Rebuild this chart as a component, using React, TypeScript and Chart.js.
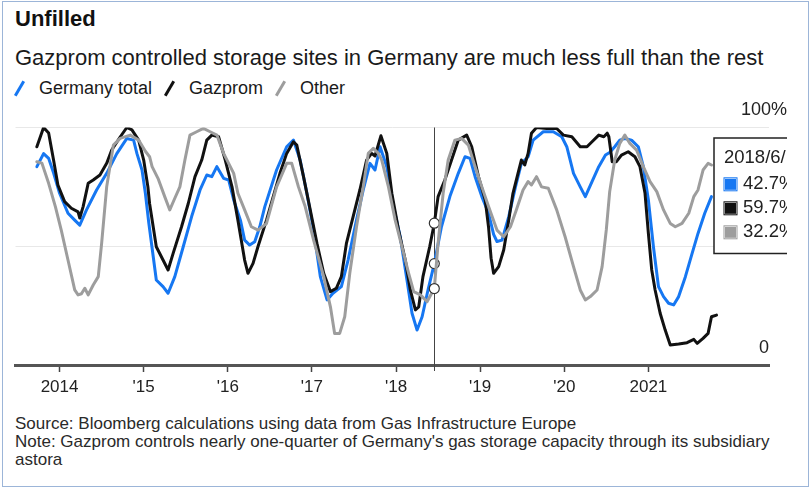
import React, { useEffect, useRef } from "react";
import { Chart, registerables, Tooltip } from "chart.js";

Chart.register(...registerables);

const FONT = "'Liberation Sans', Arial, Helvetica, sans-serif";

const TITLE = "Unfilled";
const SUBTITLE = "Gazprom controlled storage sites in Germany are much less full than the rest";
const SOURCE = "Source: Bloomberg calculations using data from Gas Infrastructure Europe";
const NOTE = "Note: Gazprom controls nearly one-quarter of Germany's gas storage capacity through its subsidiary astora";

const SERIES_NAMES = ["Germany total", "Gazprom", "Other"];
const SERIES_COLORS = ["#1677f2", "#111111", "#9d9d9d"];

const YEAR_TICKS = [2014, 2015, 2016, 2017, 2018, 2019, 2020, 2021];
const Y_TICKS = [0, 50, 100];
const X_MIN = 2013.476;
const X_MAX = 2022.434;
const HIGHLIGHT = 2018.455;

// Germany total (% full), decimal-year dates
const totalDates = [
  2013.73, 2013.81, 2013.87, 2013.93, 2014.0, 2014.1, 2014.18, 2014.24, 2014.32, 2014.44,
  2014.56, 2014.68, 2014.8, 2014.88, 2014.92, 2014.98, 2015.02, 2015.06, 2015.15, 2015.23,
  2015.29, 2015.37, 2015.47, 2015.57, 2015.67, 2015.75, 2015.81, 2015.87, 2015.95, 2016.01,
  2016.07, 2016.15, 2016.2, 2016.26, 2016.32, 2016.38, 2016.44, 2016.58, 2016.7, 2016.78,
  2016.86, 2016.94, 2017.02, 2017.1, 2017.18, 2017.25, 2017.35, 2017.43, 2017.53, 2017.61,
  2017.69, 2017.75, 2017.81, 2017.89, 2017.97, 2018.05, 2018.13, 2018.19, 2018.25, 2018.31,
  2018.38, 2018.455, 2018.54, 2018.64, 2018.74, 2018.82, 2018.88, 2018.94, 2019.02, 2019.1,
  2019.16, 2019.2, 2019.26, 2019.34, 2019.42, 2019.49, 2019.57, 2019.63, 2019.75, 2019.87,
  2019.97, 2020.03, 2020.11, 2020.19, 2020.25, 2020.33, 2020.41, 2020.49, 2020.54, 2020.6,
  2020.66, 2020.72, 2020.8, 2020.88, 2020.94, 2021.0, 2021.06, 2021.12, 2021.18, 2021.24,
  2021.3, 2021.36, 2021.44, 2021.52, 2021.59, 2021.67, 2021.75,
];
const totalPct = [
  83.5, 89, 87, 80.7, 72.3, 63.9, 61, 58.9, 65.3, 73.7,
  80.7, 89, 95.4, 94.7, 89, 82.1, 72.3, 60, 35.8, 33,
  30.2, 37.2, 49.8, 62.5, 73.7, 80, 79.3, 83.5, 78.6, 77.9,
  69.5, 61, 52.6, 50.5, 51.9, 58.2, 66.7, 82.1, 91.9, 94.7,
  86.3, 72.3, 56.8, 37.2, 27.4, 30.2, 33, 44.2, 61, 73.7,
  84.9, 82.1, 91.9, 83.5, 66.7, 54, 35.8, 21.8, 14.7, 20.3,
  31.6, 42.7, 58.2, 70.9, 80.7, 87.7, 87, 79.3, 70.9, 63.9,
  55, 52, 52.6, 62.5, 75, 84.9, 87.7, 94.7, 98.2, 98.2,
  96.1, 91.9, 80.7, 75, 70.9, 77.2, 83.5, 88.4, 89.5, 91.9,
  94.7, 95.4, 94.7, 91.9, 83.5, 69.5, 49.8, 33, 28.8, 26,
  25.3, 28.8, 37.2, 47, 55.4, 63.9, 70.9,
];

// Gazprom-controlled sites (% full)
const gazpromDates = [
  2013.73, 2013.81, 2013.87, 2013.93, 2013.98, 2014.06, 2014.14, 2014.22, 2014.24, 2014.28,
  2014.34, 2014.4, 2014.48, 2014.56, 2014.62, 2014.72, 2014.8, 2014.86, 2014.94, 2015.0,
  2015.05, 2015.07, 2015.15, 2015.23, 2015.29, 2015.35, 2015.45, 2015.53, 2015.61, 2015.69,
  2015.75, 2015.81, 2015.89, 2015.97, 2016.05, 2016.12, 2016.2, 2016.24, 2016.3, 2016.36,
  2016.46, 2016.54, 2016.62, 2016.7, 2016.78, 2016.82, 2016.9, 2016.98, 2017.06, 2017.14,
  2017.22, 2017.29, 2017.35, 2017.41, 2017.49, 2017.57, 2017.65, 2017.71, 2017.75, 2017.82,
  2017.89, 2017.95, 2018.03, 2018.11, 2018.17, 2018.23, 2018.27, 2018.32, 2018.4, 2018.455,
  2018.5, 2018.58, 2018.66, 2018.74, 2018.84, 2018.9, 2018.98, 2019.06, 2019.1, 2019.13,
  2019.16, 2019.22, 2019.28, 2019.34, 2019.39, 2019.45, 2019.49, 2019.53, 2019.57, 2019.61,
  2019.67, 2019.79, 2019.91, 2019.99, 2020.09, 2020.19, 2020.27, 2020.33, 2020.41, 2020.47,
  2020.51, 2020.53, 2020.57, 2020.62, 2020.68, 2020.76, 2020.84, 2020.9, 2020.96, 2021.0,
  2021.04, 2021.08, 2021.14, 2021.2, 2021.26, 2021.36, 2021.46, 2021.54, 2021.58, 2021.65,
  2021.71, 2021.75, 2021.81,
];
const gazpromPct = [
  91.9, 100, 97.7, 86, 75.8, 68.8, 66, 64.5, 61.9, 66.7,
  76.5, 77.9, 80, 84.9, 90.5, 96, 100, 99, 94.7, 86.3,
  75, 68, 49.8, 44.2, 40, 47, 58.2, 68, 79.3, 86.3,
  94.7, 96.8, 96.1, 86.3, 75, 61, 44.2, 38.6, 42.8, 50,
  61, 70.9, 80.7, 89.1, 94, 92.6, 79.3, 65.3, 51.2, 38.6,
  30.9, 32.3, 37.2, 51.2, 62.5, 73.7, 86.3, 89.1, 88, 96.5,
  89.1, 72.3, 56.8, 44.2, 31.6, 23.2, 24.5, 37.2, 49.8, 59.7,
  70.9, 77.9, 86.3, 94.7, 96.8, 91.9, 79.3, 69.5, 58, 45,
  38.6, 41.4, 48.4, 61, 72.3, 80.7, 86.3, 84.2, 89.1, 97.6,
  100, 99.6, 99.6, 96.8, 96.1, 91.9, 91.9, 94, 96.8, 96.1,
  97.6, 96.1, 85.6, 85.6, 88.4, 89.8, 87.7, 83.5, 72.3, 55.4,
  40, 31.6, 21.8, 14.7, 8.4, 8.8, 9.4, 10.8, 9.1, 11.2,
  13.3, 20.3, 21,
];

// Other sites (% full)
const otherDates = [
  2013.73, 2013.79, 2013.87, 2013.95, 2014.02, 2014.1, 2014.18, 2014.22, 2014.26, 2014.3,
  2014.34, 2014.4, 2014.46, 2014.5, 2014.56, 2014.64, 2014.72, 2014.84, 2014.94, 2015.02,
  2015.07, 2015.1, 2015.17, 2015.25, 2015.31, 2015.37, 2015.43, 2015.49, 2015.55, 2015.63,
  2015.71, 2015.79, 2015.87, 2015.95, 2016.01, 2016.07, 2016.12, 2016.2, 2016.28, 2016.36,
  2016.46, 2016.58, 2016.7, 2016.76, 2016.84, 2016.92, 2017.02, 2017.14, 2017.22, 2017.27,
  2017.33, 2017.39, 2017.45, 2017.53, 2017.61, 2017.67, 2017.73, 2017.79, 2017.83, 2017.91,
  2017.99, 2018.07, 2018.15, 2018.21, 2018.29, 2018.37, 2018.455, 2018.5, 2018.56, 2018.62,
  2018.7, 2018.78, 2018.86, 2018.94, 2019.02, 2019.1, 2019.2, 2019.28, 2019.36, 2019.43,
  2019.51, 2019.57, 2019.61, 2019.67, 2019.73, 2019.81, 2019.91, 2020.01, 2020.11, 2020.19,
  2020.25, 2020.31, 2020.39, 2020.45, 2020.5, 2020.54, 2020.6, 2020.66, 2020.72, 2020.78,
  2020.86, 2020.94, 2021.02, 2021.1, 2021.18, 2021.26, 2021.32, 2021.4, 2021.48, 2021.54,
  2021.59, 2021.65, 2021.71, 2021.75,
];
const otherPct = [
  85.6, 85, 76.5, 66.7, 56.8, 44.2, 31.6, 29.5, 30, 32.3,
  29.5, 33.7, 37.2, 51.2, 75, 92.6, 95.4, 96.8, 94.7, 90,
  87.7, 83.5, 78.6, 70.9, 65.3, 70.2, 75, 86.3, 96.8, 98.2,
  99.6, 98.2, 96.8, 89.1, 84.9, 80.7, 72.3, 65.3, 58.2, 56.8,
  59.6, 75, 84.9, 84.9, 75, 66.7, 52.6, 37.2, 24.5, 13.3,
  13.3, 20.3, 38.6, 58.2, 75, 89.1, 91.2, 89.1, 86.3, 75,
  61, 49.8, 38.6, 30.9, 29.5, 26.7, 32.2, 51.2, 72.3, 86.3,
  94.7, 95.4, 92.6, 83.5, 75, 66.7, 56.8, 54, 58.2, 65.3,
  73.7, 77.2, 75.8, 79.3, 75, 74.4, 65.3, 54, 41.4, 31.6,
  27.4, 28.8, 31.6, 41.4, 57, 73, 86.3, 93.3, 96.8, 93.3,
  90.5, 83.5, 77.2, 73, 65.3, 59.6, 58.2, 59.6, 63.9, 70.9,
  73.7, 82.1, 84.9, 84.2,
];

const SERIES_DATES = [totalDates, gazpromDates, otherDates];
const SERIES_VALUES = [totalPct, gazpromPct, otherPct];
const DRAW_ORDER = [3, 2, 1];

function yearLabel(v: number): string {
  if (v === 2014 || v === 2021) return String(v);
  return "'" + String(v).slice(2);
}

function yLabel(v: number): string {
  if (v === 100) return "100%";
  if (v === 0) return "0";
  return "";
}

function dateLabel(t: number): string {
  const y = Math.floor(t);
  const ms = Date.UTC(y, 0, 1) + (t - y) * 365.25 * 86400000;
  const d = new Date(ms);
  return `${d.getUTCFullYear()}/${d.getUTCMonth() + 1}/${d.getUTCDate()}`;
}

(Tooltip as any).positioners.topRightBox = function () {
  const ch = this.chart;
  return { x: ch.chartArea.right - 55, y: ch.chartArea.top + 10.5 };
};

const crosshair = {
  id: "crosshair",
  beforeDatasetsDraw(chart: any) {
    const act = chart.getActiveElements();
    if (!act.length) return;
    const x = Math.round(act[0].element.x) + 0.5;
    const { ctx, chartArea } = chart;
    ctx.save();
    ctx.strokeStyle = "#444";
    ctx.lineWidth = 1;
    ctx.beginPath();
    ctx.moveTo(x, chartArea.top);
    ctx.lineTo(x, chartArea.bottom + 6);
    ctx.stroke();
    ctx.restore();
  },
};

const yAxisLabels = {
  id: "yAxisLabels",
  afterDatasetsDraw(chart: any) {
    const { ctx, chartArea } = chart;
    const ys = chart.scales.y;
    ctx.save();
    ctx.font = `18px ${FONT}`;
    ctx.fillStyle = "#222";
    ctx.textAlign = "center";
    ctx.textBaseline = "middle";
    ys.ticks.forEach((t: any) => {
      const s = yLabel(t.value);
      if (s) ctx.fillText(s, chartArea.right - 5, ys.getPixelForValue(t.value) - 17);
    });
    ctx.restore();
  },
};

function StorageChart() {
  const ref = useRef<HTMLCanvasElement | null>(null);
  useEffect(() => {
    if (!ref.current) return;
    Chart.defaults.font.family = FONT;
    const datasets = SERIES_NAMES.map((name, i) => ({
      label: name,
      data: SERIES_DATES[i].map((d, j) => ({ x: d, y: SERIES_VALUES[i][j] })),
      borderColor: SERIES_COLORS[i],
      backgroundColor: SERIES_COLORS[i],
      borderWidth: 3,
      borderJoinStyle: "round" as const,
      borderCapStyle: "round" as const,
      pointRadius: 0,
      pointHoverRadius: 5,
      pointHoverBackgroundColor: "#ffffff",
      pointHoverBorderColor: "#333333",
      pointHoverBorderWidth: 1.2,
      tension: 0,
      order: DRAW_ORDER[i],
    }));
    const chart = new Chart(ref.current, {
      type: "line",
      data: { datasets },
      options: {
        animation: false,
        responsive: false,
        events: [],
        layout: { padding: { left: 15.5, right: 81, top: 27.5, bottom: 5 } },
        scales: {
          x: {
            type: "linear",
            min: X_MIN,
            max: X_MAX,
            afterBuildTicks: (s: any) => {
              s.ticks = YEAR_TICKS.map((v) => ({ value: v }));
            },
            afterFit: (s: any) => {
              s.height = 40;
            },
            ticks: {
              callback: (v: any) => yearLabel(Number(v)),
              autoSkip: false,
              maxRotation: 0,
              font: { family: FONT, size: 17 },
              color: "#222",
              padding: 5,
            },
            grid: {
              drawOnChartArea: false,
              drawTicks: true,
              tickLength: 7,
              tickColor: "#444",
              tickWidth: 1.5,
            },
            border: { display: true, color: "#555", width: 3 },
          },
          y: {
            type: "linear",
            position: "right",
            min: 0,
            max: 100,
            afterBuildTicks: (s: any) => {
              s.ticks = Y_TICKS.map((v) => ({ value: v }));
            },
            afterFit: (s: any) => {
              s.width = 0;
            },
            ticks: { display: false },
            grid: { color: "#e8e8e8", lineWidth: 1, drawTicks: false },
            border: { display: false },
          },
        },
        plugins: {
          legend: { display: false },
          title: { display: false },
          tooltip: {
            enabled: true,
            position: "topRightBox" as any,
            xAlign: "left",
            yAlign: "top",
            backgroundColor: "#ffffff",
            borderColor: "#222",
            borderWidth: 1.5,
            cornerRadius: 0,
            caretSize: 0,
            caretPadding: 0,
            padding: { top: 9, bottom: 10, left: 10, right: 10 },
            titleColor: "#222",
            titleFont: { family: FONT, size: 18.5, weight: "normal" },
            titleMarginBottom: 4,
            bodyColor: "#222",
            bodyFont: { family: FONT, size: 18.5 },
            bodySpacing: 1.8,
            displayColors: true,
            boxWidth: 13,
            boxHeight: 13,
            boxPadding: 4,
            callbacks: {
              title: (items: any[]) => dateLabel(items[0].parsed.x),
              label: (item: any) => item.parsed.y.toFixed(1) + "%",
              labelColor: (item: any) => ({
                borderColor: SERIES_COLORS[item.datasetIndex],
                backgroundColor: SERIES_COLORS[item.datasetIndex],
                borderWidth: 0,
              }),
            },
          },
        },
      } as any,
      plugins: [crosshair, yAxisLabels],
    });
    const els = SERIES_DATES.map((dates, di) => ({ datasetIndex: di, index: dates.indexOf(HIGHLIGHT) }));
    chart.setActiveElements(els);
    chart.tooltip?.setActiveElements(els, { x: 0, y: 0 });
    chart.update();
    return () => chart.destroy();
  }, []);
  return <canvas ref={ref} width={850} height={310} style={{ width: 850, height: 310, display: "block" }} />;
}

function LegendItem({ name, color }: { name: string; color: string }) {
  return (
    <span style={{ display: "inline-flex", alignItems: "center", marginRight: 12 }}>
      <span
        style={{
          display: "inline-block",
          width: 3,
          height: 17,
          background: color,
          transform: "rotate(30deg)",
          marginLeft: 4,
          marginRight: 18,
        }}
      />
      <span>{name}</span>
    </span>
  );
}

export default function App() {
  return (
    <div
      style={{
        position: "fixed",
        left: 0,
        top: 0,
        width: 812,
        height: 489,
        background: "#fff",
        fontFamily: FONT,
        color: "#111",
        overflow: "hidden",
      }}
    >
      <div
        style={{
          position: "absolute",
          left: 2,
          top: 1,
          width: 807,
          height: 486,
          boxSizing: "border-box",
          border: "1.5px solid #9cb5d8",
        }}
      />
      <div style={{ position: "absolute", left: 15, top: 6, fontSize: 22, fontWeight: "bold", lineHeight: "26px" }}>
        {TITLE}
      </div>
      <div style={{ position: "absolute", left: 15, top: 45, fontSize: 22, lineHeight: "26px", color: "#1a1a1a" }}>
        {SUBTITLE}
      </div>
      <div
        style={{
          position: "absolute",
          left: 14,
          top: 77,
          fontSize: 18,
          lineHeight: "22px",
          display: "flex",
          alignItems: "center",
          color: "#1a1a1a",
        }}
      >
        {SERIES_NAMES.map((n, i) => (
          <LegendItem key={n} name={n} color={SERIES_COLORS[i]} />
        ))}
      </div>
      <div style={{ position: "absolute", left: 0, top: 100, width: 787, height: 310, overflow: "hidden" }}>
        <StorageChart />
      </div>
      <div
        style={{
          position: "absolute",
          left: 15,
          top: 415,
          width: 770,
          fontSize: 17,
          lineHeight: "18px",
          color: "#2a2a2a",
        }}
      >
        <div>{SOURCE}</div>
        <div>{NOTE}</div>
      </div>
    </div>
  );
}
